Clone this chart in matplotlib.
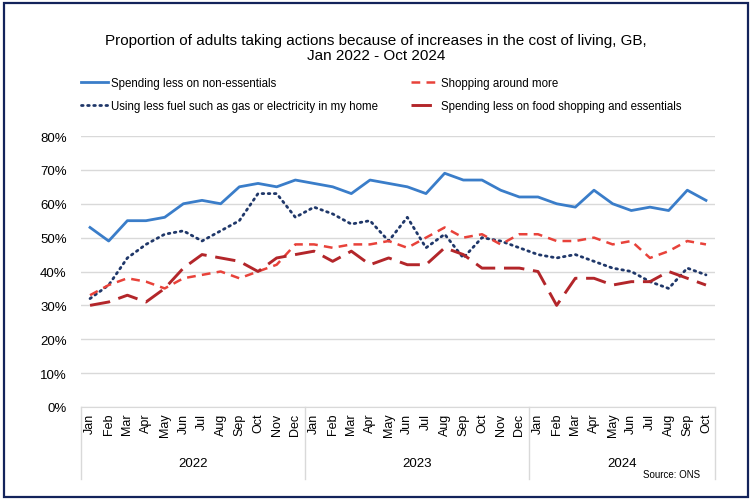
import matplotlib.pyplot as plt
from matplotlib.patches import Rectangle
import matplotlib.transforms as mtransforms

plt.rcParams['font.family'] = ['Liberation Sans', 'DejaVu Sans']

# monthly survey values, Jan 2022 - Oct 2024 (%)
months = ['Jan', 'Feb', 'Mar', 'Apr', 'May', 'Jun', 'Jul', 'Aug', 'Sep', 'Oct', 'Nov', 'Dec'] * 2 + \
         ['Jan', 'Feb', 'Mar', 'Apr', 'May', 'Jun', 'Jul', 'Aug', 'Sep', 'Oct']
years = ['2022', '2023', '2024']

non_essentials = [53, 49, 55, 55, 56, 60, 61, 60, 65, 66, 65, 67,
                  66, 65, 63, 67, 66, 65, 63, 69, 67, 67, 64, 62,
                  62, 60, 59, 64, 60, 58, 59, 58, 64, 61]
shopping_around = [33, 36, 38, 37, 35, 38, 39, 40, 38, 40, 42, 48,
                   48, 47, 48, 48, 49, 47, 50, 53, 50, 51, 48, 51,
                   51, 49, 49, 50, 48, 49, 44, 46, 49, 48]
less_fuel = [32, 36, 44, 48, 51, 52, 49, 52, 55, 63, 63, 56,
             59, 57, 54, 55, 49, 56, 47, 51, 44, 50, 49, 47,
             45, 44, 45, 43, 41, 40, 37, 35, 41, 39]
food_essentials = [30, 31, 33, 31, 35, 41, 45, 44, 43, 40, 44, 45,
                   46, 43, 46, 42, 44, 42, 42, 47, 45, 41, 41, 41,
                   40, 30, 38, 38, 36, 37, 37, 40, 38, 36]

x = list(range(len(months)))

fig = plt.figure(figsize=(7.52, 5.02), dpi=100)
ax = fig.add_axes([80.7 / 752, (502 - 408) / 502, 634.6 / 752, 271 / 502])

l1, = ax.plot(x, non_essentials, color='#3a7dc9', lw=2.0, label='Spending less on non-essentials')
l2, = ax.plot(x, less_fuel, color='#1f3769', lw=2.0, linestyle=(0, (0.6, 1.6)),
              dash_capstyle='round', label='Using less fuel such as gas or electricity in my home')
l3, = ax.plot(x, shopping_around, color='#e8423a', lw=1.8, linestyle=(0, (3.5, 2.5)),
              label='Shopping around more')
l4, = ax.plot(x, food_essentials, color='#b3262a', lw=2.1, linestyle=(0, (7, 3)),
              label='Spending less on food shopping and essentials')

ax.set_xlim(-0.5, len(months) - 0.5)
ax.set_ylim(0, 80)
ax.set_yticks(range(0, 81, 10))
ax.set_yticklabels([f'{v}%' for v in range(0, 81, 10)], fontsize=9.5)
ax.set_xticks(x)
ax.set_xticklabels(months, rotation=90, fontsize=9)
ax.tick_params(length=0, pad=4)
ax.tick_params(axis='y', pad=10)
ax.grid(axis='y', color='#d9d9d9', lw=1)
ax.set_axisbelow(True)
for s in ['top', 'right', 'left']:
    ax.spines[s].set_visible(False)
ax.spines['bottom'].set_color('#d9d9d9')

# year grouping under month labels
trans = mtransforms.blended_transform_factory(ax.transData, ax.transAxes)
for b in [-0.5, 11.5, 23.5, len(months) - 0.5]:
    ax.plot([b, b], [0, -0.265], transform=trans, color='#d9d9d9', lw=1, clip_on=False)
starts = [0, 12, 24]
ends = [11, 23, len(months) - 1]
for yr, s, e in zip(years, starts, ends):
    ax.text((s + e) / 2, -0.205, yr, transform=trans, ha='center', va='center', fontsize=9.5)

fig.text(0.5, 1 - 48.5 / 502, 'Proportion of adults taking actions because of increases in the cost of living, GB,\nJan 2022 - Oct 2024',
         ha='center', va='center', fontsize=11, linespacing=1.15)

fig.legend(handles=[l1, l2, l3, l4], ncol=2, loc='upper left', bbox_to_anchor=(71 / 752, 1 - 68 / 502),
           frameon=False, fontsize=8.3, handlelength=2.3, handletextpad=0.3, columnspacing=2.8,
           labelspacing=0.9)

fig.text(700 / 752, 1 - 475 / 502, 'Source: ONS', ha='right', va='center', fontsize=7)

fig.add_artist(Rectangle((4 / 752, 4 / 502), 744 / 752, 494 / 502, transform=fig.transFigure,
                         fill=False, edgecolor='#13235b', lw=1.6))

plt.savefig('out.png', dpi=100)
